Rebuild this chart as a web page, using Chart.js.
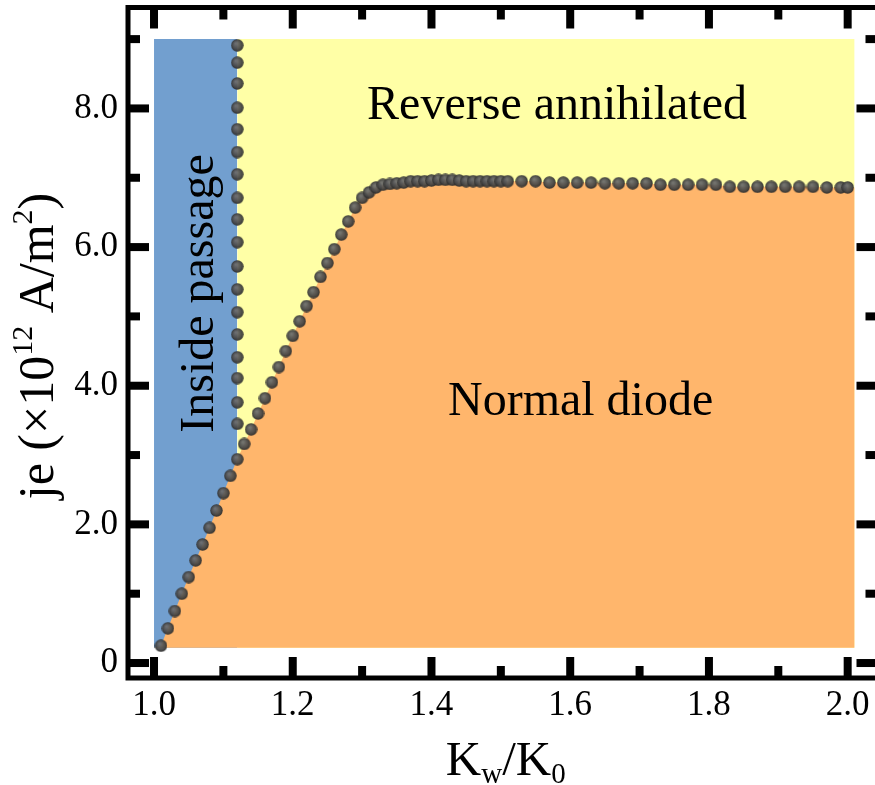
<!DOCTYPE html>
<html lang="en">
<head>
    <meta charset="UTF-8">
    <title>Diode phase diagram</title>
    <script src="https://cdn.jsdelivr.net/npm/chart.js@4.4.0/dist/chart.umd.min.js"></script>
    <style>
        html, body {
            margin: 0;
            padding: 0;
            background: #ffffff;
            overflow: hidden;
        }
        .wrap {
            width: 885px;
            height: 785px;
        }
    </style>
</head>
<body>
    <div class="wrap">
        <canvas id="phaseChart" width="885" height="785"></canvas>
    </div>

    <script>
        // boundary points between normal diode and the other two phases
        const curveK = [1.01, 1.02, 1.03, 1.04, 1.05, 1.06, 1.07, 1.08, 1.09, 1.10,
            1.11, 1.12, 1.13, 1.14, 1.15, 1.16, 1.17, 1.18, 1.19, 1.20,
            1.21, 1.22, 1.23, 1.24, 1.25, 1.26, 1.27, 1.28, 1.29, 1.30,
            1.31, 1.32, 1.33, 1.34, 1.35, 1.36, 1.37, 1.38, 1.39, 1.40,
            1.41, 1.42, 1.43, 1.44, 1.45, 1.46, 1.47, 1.48, 1.49, 1.50,
            1.51, 1.53, 1.55, 1.57, 1.59, 1.61, 1.63, 1.65, 1.67, 1.69,
            1.71, 1.73, 1.75, 1.77, 1.79, 1.81, 1.83, 1.85, 1.87, 1.89,
            1.91, 1.93, 1.95, 1.97, 1.99, 2.00];
        const curveJe = [0.25, 0.50, 0.75, 1.00, 1.24, 1.48, 1.71, 1.95, 2.20, 2.45,
            2.70, 2.94, 3.16, 3.37, 3.60, 3.82, 4.05, 4.27, 4.50, 4.72,
            4.93, 5.15, 5.35, 5.57, 5.77, 5.97, 6.18, 6.37, 6.57, 6.71,
            6.79, 6.86, 6.90, 6.91, 6.92, 6.93, 6.95, 6.95, 6.95, 6.96,
            6.97, 6.97, 6.97, 6.96, 6.95, 6.95, 6.95, 6.95, 6.95, 6.95,
            6.95, 6.95, 6.95, 6.93, 6.93, 6.93, 6.93, 6.92, 6.92, 6.92,
            6.92, 6.90, 6.90, 6.90, 6.90, 6.90, 6.87, 6.87, 6.87, 6.87,
            6.87, 6.87, 6.87, 6.86, 6.86, 6.86];

        // vertical boundary of the inside passage phase
        const passageK = 1.12;
        const passageJe = [8.91, 8.66, 8.36, 8.01, 7.70, 7.37, 7.05, 6.71, 6.40, 6.07,
            5.72, 5.39, 5.06, 4.74, 4.41, 4.11, 3.76, 3.45];

        // extent of the shaded phase regions
        const regionK = [1.00, 1.12, 2.01];   // left, passage edge, right
        const regionJe = [0.22, 9.00];        // bottom, top

        const majorK = [1.0, 1.2, 1.4, 1.6, 1.8, 2.0];
        const minorK = [1.1, 1.3, 1.5, 1.7, 1.9];
        const majorJe = [0, 2, 4, 6, 8];
        const minorJe = [1, 3, 5, 7, 9];

        const phaseLabels = [
            { text: 'Reverse annihilated', k: 1.581, je: 7.85, rotate: false },
            { text: 'Normal diode', k: 1.615, je: 3.58, rotate: false },
            { text: 'Inside passage', k: 1.085, je: 5.33, rotate: true }
        ];

        const serif = "'Liberation Serif', 'Times New Roman', serif";
        Chart.defaults.font.family = serif;
        Chart.defaults.color = '#000000';

        function makeBall(r) {
            var c = document.createElement('canvas');
            c.width = c.height = r * 2;
            var g = c.getContext('2d');
            var grad = g.createRadialGradient(r * 0.8, r * 0.7, r * 0.1, r, r, r);
            grad.addColorStop(0, 'rgba(108,108,108,0.94)');
            grad.addColorStop(0.65, 'rgba(70,70,70,0.94)');
            grad.addColorStop(1, 'rgba(38,38,38,0.94)');
            g.fillStyle = grad;
            g.beginPath();
            g.arc(r, r, r - 0.3, 0, Math.PI * 2);
            g.fill();
            return c;
        }
        const ball = makeBall(6.5);

        const curvePts = curveK.map((k, i) => ({ x: k, y: curveJe[i] }));
        const passagePts = passageJe.map(j => ({ x: passageK, y: j }));
        const normalPts = [{ x: regionK[0], y: regionJe[0] }]
            .concat(curvePts, [{ x: regionK[2], y: curveJe[curveJe.length - 1] }]);

        // tick marks, frame and axis titles
        const framePlugin = {
            id: 'frame',
            afterDatasetsDraw(chart) {
                const ctx = chart.ctx;
                const a = chart.chartArea;
                const xs = chart.scales.x, ys = chart.scales.y;
                ctx.save();

                // phase names
                ctx.fillStyle = '#000';
                ctx.font = '48px ' + serif;
                ctx.textAlign = 'center';
                ctx.textBaseline = 'alphabetic';
                phaseLabels.forEach(p => {
                    const px = xs.getPixelForValue(p.k), py = ys.getPixelForValue(p.je);
                    ctx.save();
                    ctx.translate(px, py);
                    if (p.rotate) ctx.rotate(-Math.PI / 2);
                    ctx.fillText(p.text, 0, 0);
                    ctx.restore();
                });

                ctx.fillStyle = '#000';
                function tickX(v, len) {
                    const px = xs.getPixelForValue(v);
                    ctx.fillRect(px - 4, a.bottom - len, 8, len);
                    ctx.fillRect(px - 4, a.top, 8, len);
                }
                function tickY(v, len) {
                    const py = ys.getPixelForValue(v);
                    ctx.fillRect(a.left, py - 4, len, 8);
                    ctx.fillRect(a.right - len, py - 4, len, 8);
                }
                majorK.forEach(v => tickX(v, 21));
                minorK.forEach(v => tickX(v, 12));
                majorJe.forEach(v => tickY(v, 21));
                minorJe.forEach(v => tickY(v, 12));

                ctx.strokeStyle = '#000';
                ctx.lineWidth = 5;
                ctx.strokeRect(a.left, a.top, a.right - a.left, a.bottom - a.top);

                // x title: Kw/K0 with subscripts
                drawRich(ctx, [['K', 0], ['w', -1], ['/K', 0], ['0', -1]], 49, (a.left + a.right) / 2 + 3, 775);

                // y title: je (x10^12 A/m^2), rotated
                ctx.save();
                ctx.translate(53, 346);
                ctx.rotate(-Math.PI / 2);
                drawRich(ctx, [['je (\u00d710', 0], ['12', 1], [' A/m', 0], ['2', 1], [')', 0]], 50, 0, 0);
                ctx.restore();

                ctx.restore();
            }
        };

        // parts: [text, level] with level 0 normal, 1 superscript, -1 subscript
        function drawRich(ctx, parts, size, cx, baseY) {
            const small = Math.round(size * 0.6);
            let total = 0;
            parts.forEach(p => {
                ctx.font = (p[1] === 0 ? size : small) + 'px ' + serif;
                total += ctx.measureText(p[0]).width;
            });
            let x = cx - total / 2;
            ctx.textAlign = 'left';
            ctx.textBaseline = 'alphabetic';
            parts.forEach(p => {
                ctx.font = (p[1] === 0 ? size : small) + 'px ' + serif;
                let dy = 0;
                if (p[1] === 1) dy = -size * 0.42;
                if (p[1] === -1) dy = size * 0.17;
                ctx.fillText(p[0], x, baseY + dy);
                x += ctx.measureText(p[0]).width;
            });
        }

        const ctx = document.getElementById('phaseChart').getContext('2d');
        const phaseChart = new Chart(ctx, {
            type: 'scatter',
            data: {
                datasets: [
                    { label: 'curve', data: curvePts, pointStyle: ball, pointRadius: 6.5, order: 0 },
                    { label: 'passage', data: passagePts, pointStyle: ball, pointRadius: 6.5, order: 1 },
                    { label: 'normal', data: normalPts, showLine: true, borderWidth: 0, pointRadius: 0,
                        backgroundColor: '#ffb66c', fill: { value: regionJe[0] }, order: 2 },
                    { label: 'reverse', data: [{ x: regionK[1], y: regionJe[1] }, { x: regionK[2], y: regionJe[1] }],
                        showLine: true, borderWidth: 0, pointRadius: 0,
                        backgroundColor: '#ffffa6', fill: { value: regionJe[0] }, order: 3 },
                    { label: 'inside', data: [{ x: regionK[0], y: regionJe[1] }, { x: regionK[1], y: regionJe[1] }],
                        showLine: true, borderWidth: 0, pointRadius: 0,
                        backgroundColor: '#729fcf', fill: { value: regionJe[0] }, order: 4 }
                ]
            },
            options: {
                responsive: false,
                animation: false,
                devicePixelRatio: 1,
                layout: { padding: { top: 7, right: 7, left: 0, bottom: 0 } },
                plugins: {
                    legend: { display: false },
                    tooltip: { enabled: false },
                    filler: { drawTime: 'beforeDatasetDraw' }
                },
                scales: {
                    x: {
                        type: 'linear',
                        min: 0.9625,
                        max: 2.043,
                        afterFit: s => {
                            s.height = 107;
                            s.paddingLeft = 0;
                            s.paddingRight = 0;
                        },
                        grid: { display: false, drawTicks: false },
                        border: { display: false },
                        ticks: {
                            stepSize: 0.1,
                            includeBounds: false,
                            padding: 7,
                            maxRotation: 0,
                            autoSkip: false,
                            font: { size: 35 },
                            callback: v => {
                                const n = Math.round(v * 10);
                                return n % 2 === 0 ? (n / 10).toFixed(1) : '';
                            }
                        }
                    },
                    y: {
                        type: 'linear',
                        min: -0.216,
                        max: 9.456,
                        afterFit: s => {
                            s.width = 128;
                            s.paddingTop = 0;
                            s.paddingBottom = 0;
                        },
                        grid: { display: false, drawTicks: false },
                        border: { display: false },
                        ticks: {
                            stepSize: 1,
                            includeBounds: false,
                            padding: 10,
                            autoSkip: false,
                            font: { size: 35 },
                            callback: v => {
                                const n = Math.round(v);
                                if (n % 2 !== 0) return '';
                                return n === 0 ? '0' : n.toFixed(1);
                            }
                        }
                    }
                }
            },
            plugins: [framePlugin]
        });
    </script>
</body>
</html>
